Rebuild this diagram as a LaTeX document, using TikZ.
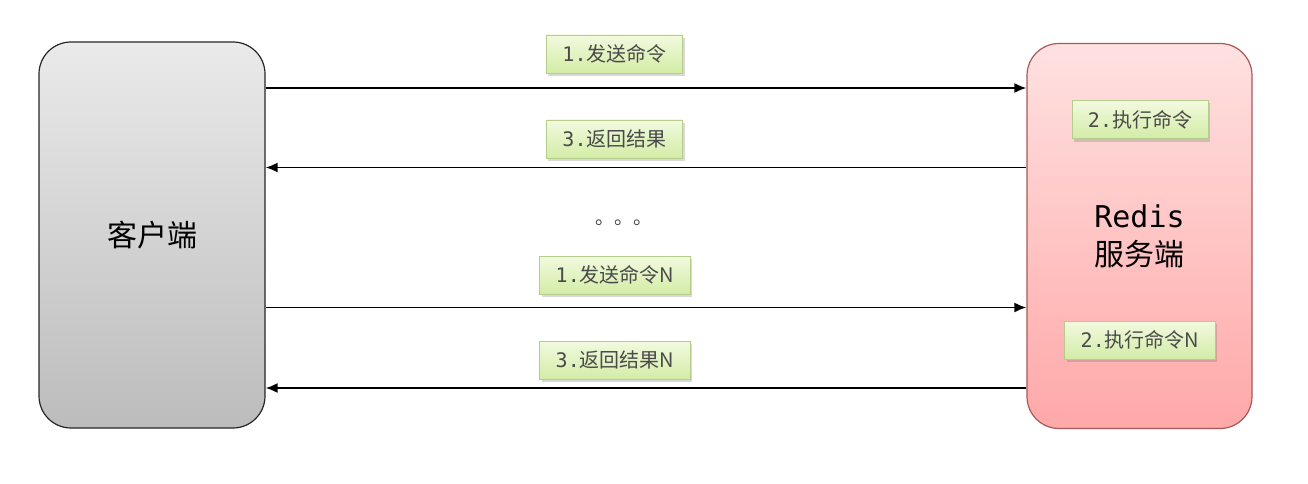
\documentclass[tikz,border=0pt]{standalone}
\usepackage{fontspec}
\setmainfont{Noto Sans CJK SC}
\newfontfamily\cjk{Noto Sans CJK SC}
\newfontfamily\mono{DejaVu Sans Mono}
\usetikzlibrary{arrows.meta,shadows,calc}
\definecolor{cltop}{HTML}{EAEAEA}
\definecolor{clbot}{HTML}{BCBCBC}
\definecolor{svtop}{HTML}{FFE1E1}
\definecolor{svbot}{HTML}{FFA8A8}
\definecolor{svline}{HTML}{A85858}
\definecolor{lbtop}{HTML}{F2FADF}
\definecolor{lbbot}{HTML}{D3ECA6}
\definecolor{lbline}{HTML}{B5CD8C}
\definecolor{lbtext}{HTML}{4A4A4A}
\tikzset{
  bigbox/.style={rounded corners=32pt, line width=1.2pt, inner sep=0pt, align=center},
  lbl/.style={draw=lbline, line width=0.8pt, top color=lbtop, bottom color=lbbot,
    text=lbtext, inner xsep=16pt, inner ysep=0pt, minimum height=38pt,
    font=\fontsize{20}{24}\selectfont,
    drop shadow={shadow xshift=2pt, shadow yshift=-3pt, opacity=0.25, fill=black!60}},
  arr/.style={line width=1.9pt, -{Latex[length=12pt,width=10pt]}}
}
\begin{document}
\begin{tikzpicture}[x=1pt,y=-1pt]
\useasboundingbox (0,0) rectangle (1308,484);
\node[bigbox, draw=black!85, top color=cltop, bottom color=clbot,
  minimum width=226pt, minimum height=386pt, font=\fontsize{30}{36}\selectfont]
  (client) at (152,235) {\raisebox{-2pt}{\cjk 客户端}};
\node[bigbox, draw=svline, top color=svtop, bottom color=svbot,
  minimum width=225pt, minimum height=385pt, font=\fontsize{30}{38}\selectfont]
  (server) at (1139.5,236) {{\mono Redis}\\[0pt]\cjk 服务端};

\draw[arr] (client.east |- 0,88) coordinate (a1s) -- (server.west |- 0,88) coordinate (a1e);
\draw[arr] (server.west |- 0,167.5) coordinate (a2s) -- (client.east |- 0,167.5) coordinate (a2e);
\draw[arr] (client.east |- 0,307.5) coordinate (a3s) -- (server.west |- 0,307.5) coordinate (a3e);
\draw[arr] (server.west |- 0,388) coordinate (a4s) -- (client.east |- 0,388) coordinate (a4e);

\node[lbl] (l1) at (614.5,54) {{\mono 1.}\cjk 发送命令};
\node[lbl] (l3) at (614.5,139) {{\mono 3.}\cjk 返回结果};
\node[lbl] (l1n) at (615,275) {{\mono 1.}\cjk 发送命令N};
\node[lbl] (l3n) at (615,360) {{\mono 3.}\cjk 返回结果N};
\node[lbl] (e2) at (1140,119.5) {{\mono 2.}\cjk 执行命令};
\node[lbl] (e2n) at (1140,340) {{\mono 2.}\cjk 执行命令N};

\node[text=black!75, font=\fontsize{19}{20}\selectfont, inner sep=0pt] (dots) at (624,223) {\cjk 。。。};
\end{tikzpicture}
\end{document}
